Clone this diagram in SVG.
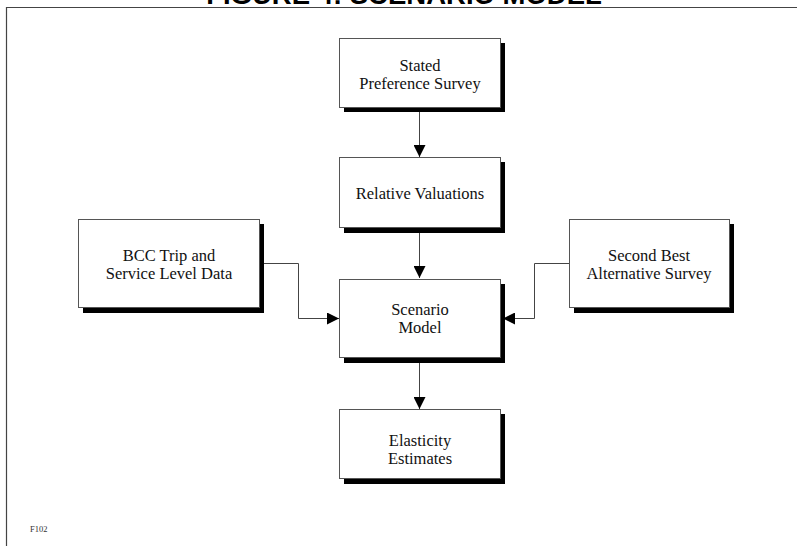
<svg xmlns="http://www.w3.org/2000/svg" width="797" height="546" viewBox="0 0 797 546">
  <style>
    .box { fill: #fff; stroke: #555; stroke-width: 1; }
    .shadow { fill: #000; }
    .lbl { font-family: "Liberation Serif", "Times New Roman", serif; font-size: 16.5px; fill: #111; text-anchor: middle; }
    .conn { fill: none; stroke: #444; stroke-width: 1; }
  </style>
  <defs>
    <marker id="arr" markerWidth="13" markerHeight="12" refX="12" refY="6" orient="auto" markerUnits="userSpaceOnUse">
      <path d="M0,0 L12,6 L0,12 Z" fill="#000"/>
    </marker>
  </defs>
  <rect x="0" y="0" width="797" height="546" fill="#fff"/>
  <text x="404" y="4" font-family="Liberation Sans, Arial, sans-serif" font-weight="bold" font-size="27.5" text-anchor="middle" fill="#000">FIGURE 4: SCENARIO MODEL</text>
  <path d="M6.5,546 L6.5,7.5 L797,7.5" fill="none" stroke="#444" stroke-width="1.2"/>

  <g id="connectors">
    <path class="conn" d="M419.5,107 L419.5,157" marker-end="url(#arr)"/>
    <path class="conn" d="M419.5,227 L419.5,278" marker-end="url(#arr)"/>
    <path class="conn" d="M419.5,358 L419.5,409" marker-end="url(#arr)"/>
    <path class="conn" d="M260,263.5 L298.5,263.5 L298.5,318.5 L339,318.5" marker-end="url(#arr)"/>
    <path class="conn" d="M569,263.5 L534.5,263.5 L534.5,318.5 L503,318.5" marker-end="url(#arr)"/>
  </g>

  <g id="stated">
    <rect class="shadow" x="344" y="43" width="161" height="69"/>
    <rect class="box" x="339.5" y="38.5" width="161" height="69"/>
    <text class="lbl" x="420" y="71">Stated</text>
    <text class="lbl" x="420" y="89">Preference Survey</text>
  </g>
  <g id="relative">
    <rect class="shadow" x="344" y="162" width="161" height="71"/>
    <rect class="box" x="339.5" y="157.5" width="161" height="70"/>
    <text class="lbl" x="420" y="199">Relative Valuations</text>
  </g>
  <g id="bcc">
    <rect class="shadow" x="83" y="224" width="181" height="89"/>
    <rect class="box" x="78.5" y="219.5" width="181" height="88"/>
    <text class="lbl" x="169" y="261">BCC Trip and</text>
    <text class="lbl" x="169" y="279">Service Level Data</text>
  </g>
  <g id="secondbest">
    <rect class="shadow" x="574" y="224" width="160" height="89"/>
    <rect class="box" x="569.5" y="219.5" width="160" height="88"/>
    <text class="lbl" x="649" y="261">Second Best</text>
    <text class="lbl" x="649" y="279">Alternative Survey</text>
  </g>
  <g id="scenario">
    <rect class="shadow" x="344" y="284" width="161" height="79"/>
    <rect class="box" x="339.5" y="279.5" width="161" height="78"/>
    <text class="lbl" x="420" y="315">Scenario</text>
    <text class="lbl" x="420" y="333">Model</text>
  </g>
  <g id="elasticity">
    <rect class="shadow" x="344" y="414" width="161" height="70"/>
    <rect class="box" x="339.5" y="409.5" width="161" height="69"/>
    <text class="lbl" x="420" y="446">Elasticity</text>
    <text class="lbl" x="420" y="464">Estimates</text>
  </g>
  <text x="30" y="532" font-family="Liberation Serif, serif" font-size="8.5" fill="#333">F102</text>
</svg>
